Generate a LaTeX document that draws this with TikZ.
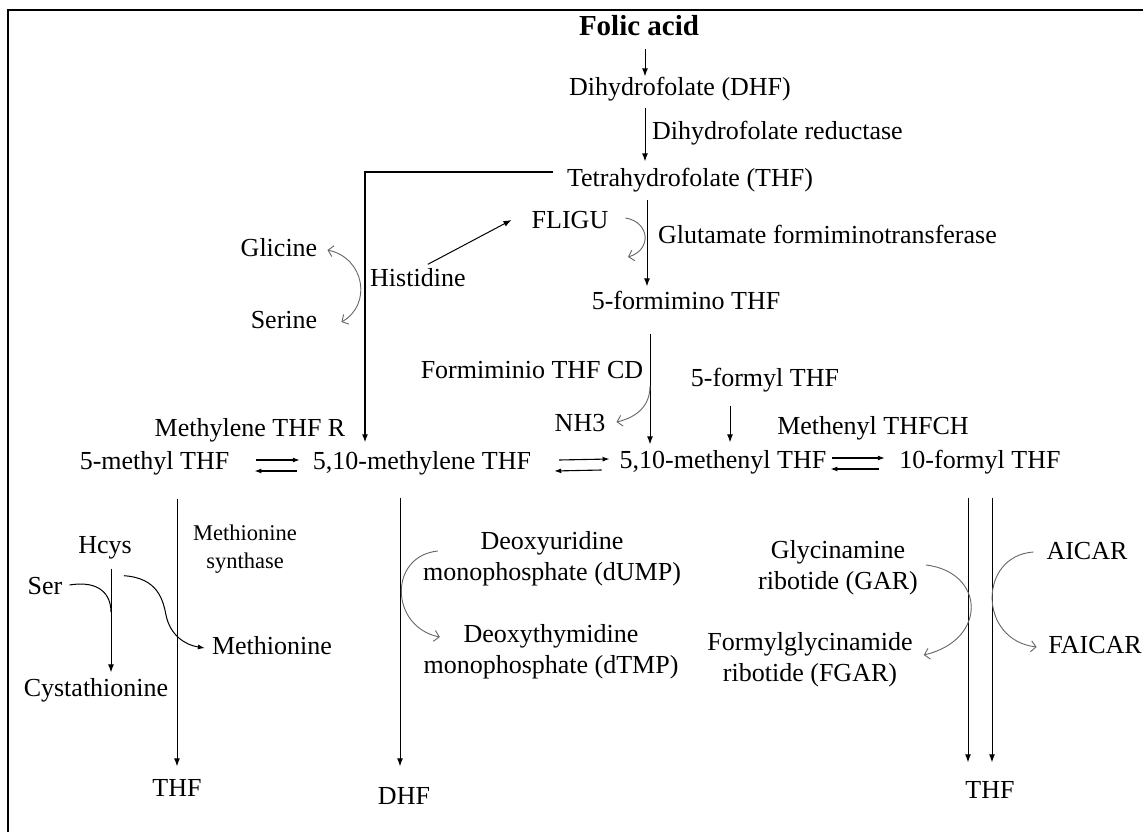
\documentclass[tikz,border=0pt]{standalone}
\usepackage{fontspec}
\setmainfont{Liberation Serif}
\usetikzlibrary{arrows.meta}
\begin{document}
\begin{tikzpicture}[x=1pt,y=-1pt,
  lbl/.style={inner sep=1pt, font=\fontsize{26}{31}\selectfont, text height=18pt, text depth=5pt},
  lbltwo/.style={inner sep=1pt, font=\fontsize{26}{31}\selectfont, align=center},
  arr/.style={line width=1pt, -{Latex[length=8pt,width=6pt]}},
  eqarr/.style={line width=1.1pt, -{Latex[length=7pt,width=5pt]}},
  garr/.style={line width=0.9pt, draw=black!60, -{Straight Barb[length=5pt,width=11pt]}},
  plain/.style={line width=1pt}
  ]
\useasboundingbox (0,0) rectangle (1143,832);
\fill[white] (0,0) rectangle (1143,832);
\draw[line width=2.5pt] (8,833) -- (8,10) -- (1144,10);

% nodes
\node[lbl, font=\bfseries\fontsize{29}{34}\selectfont] (folic) at (639,29) {Folic acid};
\node[lbl] (dhf) at (680,89) {Dihydrofolate (DHF)};
\node[lbl, anchor=west] (dhfr) at (651,133) {Dihydrofolate reductase};
\node[lbl] (thf) at (690,180) {Tetrahydrofolate (THF)};
\node[lbl] (fligu) at (570,222) {FLIGU};
\node[lbl, anchor=west] (gft) at (657,237) {Glutamate formiminotransferase};
\node[lbl] (glicine) at (279,250) {Glicine};
\node[lbl, anchor=west] (histidine) at (369,280) {Histidine};
\node[lbl] (serine) at (284,322) {Serine};
\node[lbl] (formimino) at (686,303) {5-formimino THF};
\node[lbl] (fthfcd) at (532,372) {Formiminio THF CD};
\node[lbl] (nh3) at (580,425) {NH3};
\node[lbl] (formyl5) at (765,380) {5-formyl THF};
\node[lbl] (mthfr) at (250,430) {Methylene THF R};
\node[lbl] (methyl5) at (154.5,463) {5-methyl THF};
\node[lbl] (methylene) at (422,463) {5,10-methylene THF};
\node[lbl] (methenyl) at (723,462) {5,10-methenyl THF};
\node[lbl] (mthfch) at (873,428) {Methenyl THFCH};
\node[lbl] (formyl10) at (980,462) {10-formyl THF};
\node[lbltwo, font=\fontsize{22.5}{28}\selectfont] (ms) at (245,549) {Methionine\\synthase};
\node[lbl] (hcys) at (105,547) {Hcys};
\node[lbl] (ser) at (45,588) {Ser};
\node[lbl] (cysta) at (96,690) {Cystathionine};
\node[lbl] (methionine) at (272,648) {Methionine};
\node[lbl] (thfA) at (177,790) {THF};
\node[lbl] (dhfB) at (404,798) {DHF};
\node[lbltwo] (dump) at (552,559) {Deoxyuridine\\monophosphate (dUMP)};
\node[lbltwo] (dtmp) at (551,652) {Deoxythymidine\\monophosphate (dTMP)};
\node[lbltwo] (gar) at (838,568) {Glycinamine\\ribotide (GAR)};
\node[lbltwo] (fgar) at (810,660) {Formylglycinamide\\ribotide (FGAR)};
\node[lbl] (aicar) at (1087,553) {AICAR};
\node[lbl] (faicar) at (1095,647) {FAICAR};
\node[lbl] (thfC) at (990,792) {THF};

% column coordinates
\coordinate (cA) at (645,0);
\coordinate (cB) at (647,0);
\coordinate (cC) at (650,0);
\coordinate (cD) at (730,0);
\coordinate (cE) at (400,0);
\coordinate (cF) at (968,0);
\coordinate (cG) at (992,0);
\coordinate (cH) at (111,0);
\coordinate (cI) at (177,0);
\coordinate (nhStart) at (650,386);
\coordinate (serJoin) at (111,612);
\coordinate (fliguEnd) at (628,257);

% main vertical chain
\draw[arr, shorten <=7pt] (folic.south -| cA) -- (dhf.north -| cA);
\draw[arr, shorten <=6pt, shorten >=6pt] (dhf.south -| cA) -- (thf.north -| cA);
\draw[arr, shorten <=7pt, shorten >=4pt] (thf.south -| cB) -- (formimino.north -| cB);
\draw[arr, shorten <=18pt, shorten >=5pt] (formimino.south -| cC) -- (methenyl.north -| cC);
\draw[arr, shorten <=13pt, shorten >=7pt] (formyl5.south -| cD) -- (methenyl.north -| cD);

% THF to 5,10-methylene THF
\draw[arr, line width=1.2pt] ([shift={(-13pt,8pt)}]thf.west) -| ([shift={(-57pt,8pt)}]methylene.north);

% Histidine to FLIGU
\draw[arr] ([shift={(10pt,3pt)}]histidine.north) -- ([shift={(-19pt,2pt)}]fligu.west);

% Glicine / Serine arc
\draw[garr, {Straight Barb[length=5pt,width=11pt]}-{Straight Barb[length=5pt,width=11pt]}]
  ([xshift=9pt]glicine.east) .. controls (365,258) and (372,305) .. ([xshift=23pt]serine.east);

% FLIGU curve
\draw[garr] ([shift={(16pt,4pt)}]fligu.east) .. controls (650,222) and (652,250) .. (fliguEnd);

% NH3 curve
\draw[garr] (nhStart) .. controls (650,405) and (638,417) .. ([shift={(10pt,3pt)}]nh3.east);

% equilibrium arrows
\draw[eqarr] ([shift={(26pt,3pt)}]methyl5.east) -- ([shift={(-12pt,3pt)}]methylene.west);
\draw[eqarr] ([shift={(-15pt,-8pt)}]methylene.west) -- ([shift={(24pt,-8pt)}]methyl5.east);
\draw[eqarr] ([shift={(27pt,3pt)}]methylene.east) -- ([shift={(-9pt,3pt)}]methenyl.west);
\draw[eqarr] ([shift={(-17pt,-8pt)}]methenyl.west) -- ([shift={(22pt,-8pt)}]methylene.east);
\draw[eqarr] ([shift={(5pt,4pt)}]methenyl.east) -- ([shift={(-13.5pt,4pt)}]formyl10.west);
\draw[eqarr] ([shift={(-19.5pt,-7pt)}]formyl10.west) -- ([shift={(3pt,-7pt)}]methenyl.east);

% long downward arrows
\draw[arr, shorten <=23pt, shorten >=11pt] (methyl5.south -| cI) -- (thfA.north -| cI);
\draw[arr, shorten <=22pt, shorten >=19pt] (methylene.south -| cE) -- (dhfB.north -| cE);
\draw[arr, shorten <=23pt, shorten >=17pt] (formyl10.south -| cF) -- (thfC.north -| cF);
\draw[arr, shorten <=23pt, shorten >=17pt] (formyl10.south -| cG) -- (thfC.north -| cG);

% Hcys branch
\draw[arr, shorten <=9pt, shorten >=5pt] (hcys.south -| cH) -- (cysta.north -| cH);
\draw[plain] ([shift={(6pt,3pt)}]ser.east) .. controls (100,580) and (111,595) .. (serJoin);
\draw[arr, -{Latex[length=7pt,width=5pt]}] ([shift={(-9pt,-16pt)}]hcys.south east)
  .. controls (158,578) and (163,600) .. (166,615)
  .. controls (170,635) and (185,645) .. ([xshift=-6pt]methionine.west);

% dUMP -> dTMP
\draw[garr] ([shift={(16pt,8pt)}]dump.west) .. controls (388,556) and (390,627) .. ([shift={(17.5pt,15pt)}]dtmp.west);

% GAR -> FGAR
\draw[garr] ([shift={(7pt,3pt)}]gar.east) .. controls (985,572) and (988,640) .. ([shift={(10pt,5pt)}]fgar.east);

% AICAR -> FAICAR
\draw[garr] ([shift={(-12pt,1pt)}]aicar.west) .. controls (978,556) and (978,640) .. ([xshift=-10.5pt]faicar.west);
\end{tikzpicture}
\end{document}
